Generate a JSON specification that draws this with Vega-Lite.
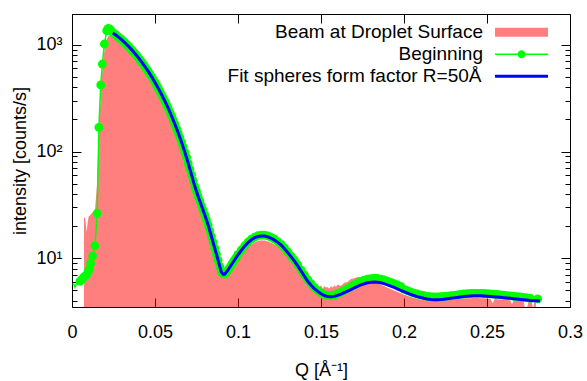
{
  "$schema": "https://vega.github.io/schema/vega-lite/v6.json",
  "width": 498,
  "height": 293,
  "autosize": "none",
  "padding": {"left": 72, "top": 14, "right": 17, "bottom": 74},
  "config": {
    "view": {"stroke": "black", "strokeWidth": 1},
    "font": "Liberation Sans",
    "axis": {"domain": false, "grid": false, "labelFont": "Liberation Sans", "labelFontSize": 18, "labelColor": "black", "titleFont": "Liberation Sans", "titleFontSize": 18, "titleFontWeight": "normal", "titleColor": "black", "tickColor": "black", "tickWidth": 1, "labelOverlap": false, "labelBound": false},
    "legend": {"title": null, "padding": 0, "labelFontSize": 19, "labelFont": "Liberation Sans", "labelColor": "black", "labelLimit": 400, "labelAlign": "right", "symbolSize": 2809, "orient": "none"}
  },
  "datasets": {
    "beam": [
      {"Q":0.0072,"I":24.5},{"Q":0.008,"I":23.5},{"Q":0.0086,"I":19},{"Q":0.0089,"I":17.5},{"Q":0.0093,"I":21},{"Q":0.01,"I":24.5},{"Q":0.011,"I":25.5},{"Q":0.012,"I":26.5},{"Q":0.013,"I":27.5},{"Q":0.0139,"I":29},{"Q":0.015,"I":48},{"Q":0.016,"I":125},{"Q":0.017,"I":270},{"Q":0.018,"I":500},{"Q":0.019,"I":760},{"Q":0.02,"I":990},{"Q":0.021,"I":1140},{"Q":0.022,"I":1210},{"Q":0.023,"I":1215},{"Q":0.024,"I":1185},
      {"Q":0.026,"I":1123},{"Q":0.028,"I":1061},{"Q":0.03,"I":998},{"Q":0.032,"I":934},{"Q":0.034,"I":869},{"Q":0.036,"I":806},{"Q":0.038,"I":742},{"Q":0.04,"I":680},{"Q":0.042,"I":618},{"Q":0.044,"I":560},{"Q":0.046,"I":503},{"Q":0.048,"I":450},{"Q":0.05,"I":399},{"Q":0.052,"I":351},{"Q":0.054,"I":306},{"Q":0.056,"I":266},{"Q":0.058,"I":228},{"Q":0.06,"I":193},{"Q":0.062,"I":162},{"Q":0.064,"I":134},{"Q":0.066,"I":110},{"Q":0.068,"I":88},{"Q":0.07,"I":70},{"Q":0.072,"I":54.5},{"Q":0.074,"I":42.3},{"Q":0.076,"I":34.2},{"Q":0.078,"I":27.9},{"Q":0.08,"I":23},{"Q":0.082,"I":18.5},{"Q":0.084,"I":14.4},{"Q":0.086,"I":11.2},{"Q":0.088,"I":8.7},{"Q":0.09,"I":6.8},{"Q":0.092,"I":6.5},{"Q":0.094,"I":7.1},{"Q":0.096,"I":7.9},{"Q":0.098,"I":8.8},
      {"Q":0.1,"I":9.8},{"Q":0.102,"I":10.8},{"Q":0.104,"I":11.8},{"Q":0.106,"I":12.7},{"Q":0.108,"I":13.5},{"Q":0.11,"I":14.1},{"Q":0.112,"I":14.5},{"Q":0.114,"I":14.7},{"Q":0.116,"I":14.7},{"Q":0.118,"I":14.4},{"Q":0.12,"I":14},{"Q":0.122,"I":13.4},{"Q":0.124,"I":12.8},{"Q":0.126,"I":12.1},{"Q":0.128,"I":11.2},{"Q":0.13,"I":10.3},{"Q":0.132,"I":9.4},{"Q":0.134,"I":8.6},{"Q":0.136,"I":7.8},{"Q":0.138,"I":7},{"Q":0.14,"I":6.4},
      {"Q":0.141,"I":5.8},{"Q":0.142,"I":6.1},{"Q":0.143,"I":5.6},{"Q":0.144,"I":5.9},{"Q":0.145,"I":5.5},{"Q":0.146,"I":5.8},{"Q":0.147,"I":5.4},{"Q":0.148,"I":5.7},{"Q":0.149,"I":5.3},{"Q":0.15,"I":5.6},{"Q":0.151,"I":5.2},{"Q":0.152,"I":5.5},{"Q":0.153,"I":5.3},{"Q":0.154,"I":5.4},{"Q":0.155,"I":5.2},{"Q":0.156,"I":5.5},{"Q":0.157,"I":5.3},{"Q":0.158,"I":5.6},{"Q":0.159,"I":5.4},{"Q":0.16,"I":5.7},{"Q":0.162,"I":5.5},{"Q":0.164,"I":5.9},{"Q":0.166,"I":6},{"Q":0.168,"I":6.4},{"Q":0.17,"I":6.5},{"Q":0.172,"I":6.7},{"Q":0.174,"I":6.6},{"Q":0.176,"I":6.5},{"Q":0.178,"I":6.3},{"Q":0.18,"I":6.2},{"Q":0.182,"I":6},{"Q":0.184,"I":5.9},{"Q":0.186,"I":5.7},{"Q":0.188,"I":5.5},{"Q":0.19,"I":5.3},{"Q":0.192,"I":5.15},{"Q":0.194,"I":5},{"Q":0.196,"I":4.85},{"Q":0.198,"I":4.7},
      {"Q":0.2,"I":4.55},{"Q":0.202,"I":4.45},{"Q":0.204,"I":4.35},{"Q":0.206,"I":4.25},{"Q":0.208,"I":4.18},{"Q":0.21,"I":4.12},{"Q":0.212,"I":4.08},{"Q":0.214,"I":4.05},{"Q":0.216,"I":4.02},{"Q":0.218,"I":4},{"Q":0.22,"I":4},{"Q":0.222,"I":4.02},{"Q":0.224,"I":4.04},{"Q":0.226,"I":4.07},{"Q":0.228,"I":4.1},{"Q":0.23,"I":4.12},{"Q":0.232,"I":4.15},{"Q":0.234,"I":4.17},{"Q":0.236,"I":4.2},{"Q":0.238,"I":4.22},{"Q":0.24,"I":4.23},{"Q":0.242,"I":4.24},{"Q":0.244,"I":4.24},{"Q":0.246,"I":4.23},{"Q":0.248,"I":4.22},{"Q":0.25,"I":4.2},{"Q":0.252,"I":4.18},{"Q":0.2535,"I":3.8},{"Q":0.2545,"I":4.17},{"Q":0.256,"I":4.14},{"Q":0.258,"I":4.12},{"Q":0.26,"I":4.1},{"Q":0.262,"I":4.08},{"Q":0.264,"I":4.05},{"Q":0.265,"I":3.7},{"Q":0.266,"I":4.03},{"Q":0.268,"I":4},{"Q":0.27,"I":3.98},{"Q":0.272,"I":3.96},{"Q":0.2728,"I":3.5},{"Q":0.2742,"I":3.5},{"Q":0.275,"I":3.94},{"Q":0.277,"I":3.92},{"Q":0.2775,"I":3.5},{"Q":0.278,"I":3.5},{"Q":0.2785,"I":3.9},{"Q":0.2795,"I":3.9}
    ],
    "begin": [
      {"Q":0.0003,"I":5.8},{"Q":0.0012,"I":5.7},{"Q":0.0018,"I":5.35},{"Q":0.003,"I":6},{"Q":0.0048,"I":6.1},{"Q":0.0058,"I":6.3},{"Q":0.0068,"I":6.6},{"Q":0.0078,"I":6.8},{"Q":0.0088,"I":7},{"Q":0.0097,"I":7.5},{"Q":0.0104,"I":7.9},{"Q":0.0112,"I":9},{"Q":0.0124,"I":10.5},{"Q":0.0138,"I":13.1},{"Q":0.0152,"I":26.4},{"Q":0.0162,"I":168},{"Q":0.0173,"I":420},{"Q":0.0183,"I":660},{"Q":0.0195,"I":1016},{"Q":0.0209,"I":1352},{"Q":0.0218,"I":1420},{"Q":0.0229,"I":1400},{"Q":0.024,"I":1330},
      {"Q":0.025,"I":1281},{"Q":0.026,"I":1248},{"Q":0.027,"I":1213},{"Q":0.028,"I":1179},{"Q":0.029,"I":1144},{"Q":0.03,"I":1109},{"Q":0.031,"I":1073},{"Q":0.032,"I":1038},{"Q":0.033,"I":1001},{"Q":0.034,"I":966},{"Q":0.035,"I":930},{"Q":0.036,"I":895},{"Q":0.037,"I":859},{"Q":0.038,"I":824},{"Q":0.039,"I":789},{"Q":0.04,"I":755},{"Q":0.041,"I":720},{"Q":0.042,"I":687},{"Q":0.043,"I":654},{"Q":0.044,"I":622},{"Q":0.045,"I":590},{"Q":0.046,"I":559},{"Q":0.047,"I":529},{"Q":0.048,"I":500},{"Q":0.049,"I":471},{"Q":0.05,"I":443},{"Q":0.051,"I":416},{"Q":0.052,"I":390},{"Q":0.053,"I":364},{"Q":0.054,"I":340},{"Q":0.055,"I":317},{"Q":0.056,"I":295},{"Q":0.057,"I":273},{"Q":0.058,"I":253},{"Q":0.059,"I":233},{"Q":0.06,"I":214},{"Q":0.061,"I":197},{"Q":0.062,"I":180},{"Q":0.063,"I":164},{"Q":0.064,"I":149},{"Q":0.065,"I":135},{"Q":0.066,"I":122},{"Q":0.067,"I":109.5},{"Q":0.068,"I":98.2},{"Q":0.069,"I":88.4},{"Q":0.07,"I":77.8},{"Q":0.071,"I":68.6},{"Q":0.072,"I":60.5},{"Q":0.073,"I":53.3},{"Q":0.074,"I":47},{"Q":0.075,"I":42.3},{"Q":0.076,"I":38},{"Q":0.077,"I":34.3},{"Q":0.078,"I":31},{"Q":0.079,"I":28.1},{"Q":0.08,"I":25.5},{"Q":0.081,"I":22.9},{"Q":0.082,"I":20.5},{"Q":0.083,"I":18.1},{"Q":0.084,"I":16},{"Q":0.085,"I":14.1},{"Q":0.086,"I":12.4},{"Q":0.087,"I":10.9},{"Q":0.088,"I":9.6},{"Q":0.089,"I":8.4},{"Q":0.09,"I":7.4},{"Q":0.091,"I":7.2},{"Q":0.092,"I":7.1},{"Q":0.093,"I":7.4},{"Q":0.094,"I":7.8},{"Q":0.095,"I":8.2},{"Q":0.096,"I":8.7},{"Q":0.097,"I":9.2},{"Q":0.098,"I":9.7},{"Q":0.099,"I":10.2},
      {"Q":0.1,"I":10.9},{"Q":0.102,"I":12},{"Q":0.104,"I":13.1},{"Q":0.106,"I":14.2},{"Q":0.108,"I":15.1},{"Q":0.11,"I":15.8},{"Q":0.112,"I":16.3},{"Q":0.114,"I":16.5},{"Q":0.116,"I":16.5},{"Q":0.118,"I":16.2},{"Q":0.12,"I":15.7},{"Q":0.122,"I":15.1},{"Q":0.124,"I":14.3},{"Q":0.126,"I":13.5},{"Q":0.128,"I":12.5},{"Q":0.13,"I":11.5},{"Q":0.132,"I":10.5},{"Q":0.134,"I":9.6},{"Q":0.136,"I":8.7},{"Q":0.138,"I":7.8},{"Q":0.14,"I":7},{"Q":0.142,"I":6.3},{"Q":0.144,"I":5.8},{"Q":0.146,"I":5.35},{"Q":0.148,"I":5},{"Q":0.15,"I":4.75},{"Q":0.152,"I":4.57},{"Q":0.154,"I":4.48},{"Q":0.156,"I":4.47},{"Q":0.158,"I":4.53},{"Q":0.16,"I":4.66},{"Q":0.162,"I":4.82},{"Q":0.164,"I":5},{"Q":0.166,"I":5.2},{"Q":0.168,"I":5.42},{"Q":0.17,"I":5.65},{"Q":0.172,"I":5.87},{"Q":0.174,"I":6.07},{"Q":0.176,"I":6.25},{"Q":0.178,"I":6.38},{"Q":0.18,"I":6.45},{"Q":0.182,"I":6.5},{"Q":0.184,"I":6.47},{"Q":0.186,"I":6.39},{"Q":0.188,"I":6.27},{"Q":0.19,"I":6.12},{"Q":0.192,"I":5.96},{"Q":0.194,"I":5.79},{"Q":0.196,"I":5.62},{"Q":0.198,"I":5.45},
      {"Q":0.2,"I":5.12},{"Q":0.202,"I":4.98},{"Q":0.204,"I":4.84},{"Q":0.206,"I":4.72},{"Q":0.208,"I":4.63},{"Q":0.21,"I":4.54},{"Q":0.212,"I":4.46},{"Q":0.214,"I":4.4},{"Q":0.216,"I":4.37},{"Q":0.218,"I":4.35},{"Q":0.22,"I":4.35},{"Q":0.222,"I":4.37},{"Q":0.224,"I":4.39},{"Q":0.226,"I":4.43},{"Q":0.228,"I":4.46},{"Q":0.23,"I":4.5},{"Q":0.232,"I":4.55},{"Q":0.234,"I":4.59},{"Q":0.236,"I":4.63},{"Q":0.238,"I":4.66},{"Q":0.24,"I":4.68},{"Q":0.242,"I":4.69},{"Q":0.244,"I":4.7},{"Q":0.246,"I":4.69},{"Q":0.248,"I":4.68},{"Q":0.25,"I":4.66},{"Q":0.252,"I":4.64},{"Q":0.254,"I":4.61},{"Q":0.256,"I":4.58},{"Q":0.258,"I":4.55},{"Q":0.26,"I":4.52},{"Q":0.262,"I":4.48},{"Q":0.264,"I":4.45},{"Q":0.266,"I":4.41},{"Q":0.268,"I":4.37},{"Q":0.27,"I":4.34},{"Q":0.272,"I":4.3},{"Q":0.274,"I":4.26},{"Q":0.276,"I":4.23},{"Q":0.2805,"I":4.17}
    ],
    "fit": [
      {"Q":0.0245,"I":1290},{"Q":0.026,"I":1248},{"Q":0.028,"I":1179},{"Q":0.03,"I":1109},{"Q":0.032,"I":1038},{"Q":0.034,"I":966},{"Q":0.036,"I":895},{"Q":0.038,"I":824},{"Q":0.04,"I":755},{"Q":0.042,"I":687},{"Q":0.044,"I":622},{"Q":0.046,"I":559},{"Q":0.048,"I":500},{"Q":0.05,"I":443},{"Q":0.052,"I":390},{"Q":0.054,"I":340},{"Q":0.056,"I":295},{"Q":0.058,"I":253},{"Q":0.06,"I":214},{"Q":0.062,"I":180},{"Q":0.064,"I":149},{"Q":0.066,"I":122},{"Q":0.068,"I":98.2},{"Q":0.07,"I":77.8},{"Q":0.072,"I":60.5},{"Q":0.074,"I":47},{"Q":0.076,"I":38},{"Q":0.078,"I":31},{"Q":0.08,"I":25.5},{"Q":0.082,"I":20.5},{"Q":0.084,"I":16},{"Q":0.086,"I":12.4},{"Q":0.088,"I":9.6},{"Q":0.09,"I":7.4},{"Q":0.091,"I":7.1},{"Q":0.092,"I":7.1},{"Q":0.094,"I":7.8},{"Q":0.096,"I":8.7},{"Q":0.098,"I":9.7},
      {"Q":0.1,"I":10.8},{"Q":0.102,"I":11.9},{"Q":0.104,"I":13},{"Q":0.106,"I":14},{"Q":0.108,"I":14.9},{"Q":0.11,"I":15.6},{"Q":0.112,"I":16},{"Q":0.114,"I":16.2},{"Q":0.116,"I":16.2},{"Q":0.118,"I":15.9},{"Q":0.12,"I":15.4},{"Q":0.122,"I":14.8},{"Q":0.124,"I":14.1},{"Q":0.126,"I":13.3},{"Q":0.128,"I":12.3},{"Q":0.13,"I":11.3},{"Q":0.132,"I":10.3},{"Q":0.134,"I":9.4},{"Q":0.136,"I":8.5},{"Q":0.138,"I":7.6},{"Q":0.14,"I":6.8},{"Q":0.142,"I":6.1},{"Q":0.144,"I":5.6},{"Q":0.146,"I":5.2},{"Q":0.148,"I":4.9},{"Q":0.15,"I":4.65},{"Q":0.152,"I":4.48},{"Q":0.154,"I":4.38},{"Q":0.156,"I":4.36},{"Q":0.158,"I":4.4},{"Q":0.16,"I":4.5},{"Q":0.162,"I":4.62},{"Q":0.164,"I":4.77},{"Q":0.166,"I":4.93},{"Q":0.168,"I":5.1},{"Q":0.17,"I":5.28},{"Q":0.172,"I":5.46},{"Q":0.174,"I":5.63},{"Q":0.176,"I":5.78},{"Q":0.178,"I":5.9},{"Q":0.18,"I":5.97},{"Q":0.182,"I":6},{"Q":0.184,"I":5.97},{"Q":0.186,"I":5.9},{"Q":0.188,"I":5.79},{"Q":0.19,"I":5.65},{"Q":0.192,"I":5.5},{"Q":0.194,"I":5.34},{"Q":0.196,"I":5.18},{"Q":0.198,"I":5.02},
      {"Q":0.2,"I":4.87},{"Q":0.202,"I":4.73},{"Q":0.204,"I":4.6},{"Q":0.206,"I":4.48},{"Q":0.208,"I":4.38},{"Q":0.21,"I":4.29},{"Q":0.212,"I":4.22},{"Q":0.214,"I":4.16},{"Q":0.216,"I":4.12},{"Q":0.218,"I":4.1},{"Q":0.22,"I":4.1},{"Q":0.222,"I":4.11},{"Q":0.224,"I":4.14},{"Q":0.226,"I":4.18},{"Q":0.228,"I":4.22},{"Q":0.23,"I":4.26},{"Q":0.232,"I":4.3},{"Q":0.234,"I":4.34},{"Q":0.236,"I":4.38},{"Q":0.238,"I":4.41},{"Q":0.24,"I":4.43},{"Q":0.242,"I":4.45},{"Q":0.244,"I":4.45},{"Q":0.246,"I":4.45},{"Q":0.248,"I":4.44},{"Q":0.25,"I":4.42},{"Q":0.252,"I":4.4},{"Q":0.254,"I":4.37},{"Q":0.256,"I":4.34},{"Q":0.258,"I":4.31},{"Q":0.26,"I":4.28},{"Q":0.262,"I":4.25},{"Q":0.264,"I":4.22},{"Q":0.266,"I":4.19},{"Q":0.268,"I":4.15},{"Q":0.27,"I":4.12},{"Q":0.272,"I":4.09},{"Q":0.274,"I":4.06},{"Q":0.276,"I":4.03},{"Q":0.278,"I":4.01},{"Q":0.28,"I":4},{"Q":0.282,"I":3.99}
    ]
  },
  "layer": [
    {
      "data": {"name": "beam"},
      "mark": {"type": "area", "fillOpacity": 0.5, "clip": true},
      "encoding": {
        "x": {"field": "Q", "type": "quantitative", "scale": {"domain": [0, 0.3], "nice": false, "zero": false},
          "axis": {"orient": "bottom", "values": [0, 0.05, 0.1, 0.15, 0.2, 0.25, 0.3], "labelExpr": "format(datum.value, '~g')", "tickSize": -9, "labelPadding": 25, "labelFlush": false, "title": "Q [Å⁻¹]", "titlePadding": 20}},
        "y": {"field": "I", "type": "quantitative", "scale": {"type": "log", "domain": [3.5, 1940], "nice": false},
          "axis": {"orient": "left", "values": [4,5,6,7,8,9,10,20,30,40,50,60,70,80,90,100,200,300,400,500,600,700,800,900,1000],
            "labelExpr": "datum.value == 10 ? '10¹' : datum.value == 100 ? '10²' : datum.value == 1000 ? '10³' : ''",
            "tickSize": {"condition": {"test": "datum.value == 10 || datum.value == 100 || datum.value == 1000", "value": -9}, "value": -5},
            "labelPadding": 19, "title": "intensity [counts/s]", "titlePadding": 6}},
        "y2": {"datum": 3.5},
        "fill": {"datum": "Beam at Droplet Surface",
          "scale": {"domain": ["Beam at Droplet Surface"], "range": ["#ff0000"]},
          "legend": {"legendX": 423, "legendY": -8.2, "symbolType": "M-1,-0.17L1,-0.17L1,0.17L-1,0.17Z", "symbolOpacity": 0.5, "symbolStrokeWidth": 0, "labelOffset": -65}}
      }
    },
    {
      "data": {"name": "begin"},
      "transform": [{"filter": "datum.Q >= 0.004"}],
      "mark": {"type": "point", "filled": true, "size": 78, "opacity": 1, "clip": true},
      "encoding": {
        "x": {"field": "Q", "type": "quantitative",
          "axis": {"orient": "top", "values": [0, 0.05, 0.1, 0.15, 0.2, 0.25, 0.3], "labels": false, "tickSize": -9, "title": null}},
        "y": {"field": "I", "type": "quantitative",
          "axis": {"orient": "right", "values": [4,5,6,7,8,9,10,20,30,40,50,60,70,80,90,100,200,300,400,500,600,700,800,900,1000], "labels": false, "title": null,
            "tickSize": {"condition": {"test": "datum.value == 10 || datum.value == 100 || datum.value == 1000", "value": -9}, "value": -5}}},
        "color": {"datum": "Beginning",
          "scale": {"domain": ["Beginning"], "range": ["#00ff00"]},
          "legend": {"legendX": 423, "legendY": 13.8, "symbolType": "M-1,-0.03L1,-0.03L1,0.03L-1,0.03Z M0.15,0A0.15,0.15,0,1,1,-0.15,0A0.15,0.15,0,1,1,0.15,0Z", "symbolOpacity": 1, "symbolStrokeWidth": 0, "labelOffset": -65}}
      }
    },
    {
      "data": {"name": "begin"},
      "mark": {"type": "line", "strokeWidth": 1.5, "clip": true, "color": "#00ff00"},
      "encoding": {
        "x": {"field": "Q", "type": "quantitative", "axis": null},
        "y": {"field": "I", "type": "quantitative", "axis": null}
      }
    },
    {
      "data": {"name": "fit"},
      "mark": {"type": "line", "strokeWidth": 3, "clip": true},
      "encoding": {
        "x": {"field": "Q", "type": "quantitative", "axis": null},
        "y": {"field": "I", "type": "quantitative", "axis": null},
        "stroke": {"datum": "Fit spheres form factor R=50Å",
          "scale": {"domain": ["Fit spheres form factor R=50Å"], "range": ["#0000ff"]},
          "legend": {"legendX": 421.5, "legendY": 34.3, "symbolType": "M-1,0L1,0", "symbolOpacity": 1, "symbolStrokeWidth": 3, "labelOffset": -68}}
      }
    }
  ],
  "resolve": {"axis": {"x": "independent", "y": "independent"}}
}
